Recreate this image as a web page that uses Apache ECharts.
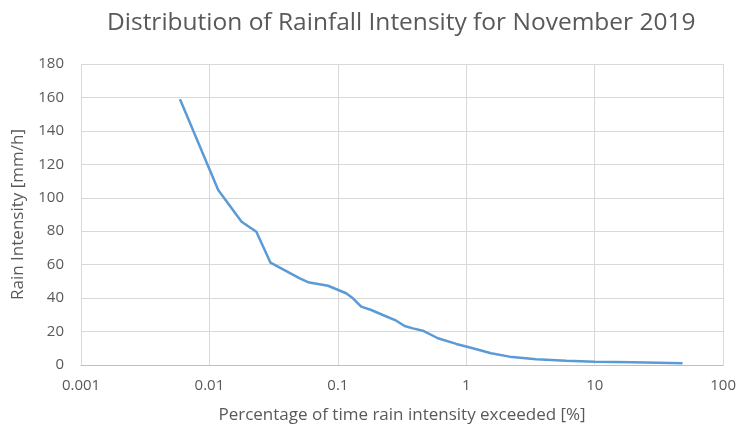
<!DOCTYPE html>
<html>
<head>
<meta charset="utf-8">
<script src="https://cdn.jsdelivr.net/npm/echarts@6/dist/echarts.min.js"></script>
<style>
  html, body { margin: 0; padding: 0; background: #fff; }
  #chart { width: 739px; height: 430px; }
</style>
</head>
<body>
<div id="chart"></div>
<script>
// Exceedance percentage (% of time) and the rain intensity reached (mm/h)
const exceedPct = [0.0059, 0.0117, 0.0178, 0.0232, 0.0299, 0.0505, 0.0586, 0.0838, 0.116, 0.131,
                   0.152, 0.182, 0.224, 0.285, 0.331, 0.384, 0.459, 0.601, 0.836, 1.125,
                   1.56, 2.17, 3.5, 6.0, 10, 19.7, 48.3];
const intensity = [158.9, 104.6, 85.7, 79.7, 61.2, 51.8, 49.5, 47.4, 42.9, 39.9,
                   34.9, 32.9, 29.9, 26.5, 23.3, 21.9, 20.5, 16.0, 12.6, 10.0,
                   7.0, 5.0, 3.4, 2.6, 2.0, 1.6, 1.0];
const xTicks = ['0.001', '0.01', '0.1', '1', '10', '100'];

const titleText = 'Distribution of Rainfall Intensity for November 2019';
const xName = 'Percentage of time rain intensity exceeded [%]';
const yName = 'Rain Intensity [mm/h]';

const font = '"Open Sans", "Noto Sans", sans-serif';
const textColor = '#595959';

const chart = echarts.init(document.getElementById('chart'), null, { renderer: 'canvas' });
chart.setOption({
  animation: false,
  backgroundColor: '#ffffff',
  title: {
    text: titleText,
    left: 102,
    top: 6,
    textStyle: { fontFamily: font, fontSize: 24.5, fontWeight: 'normal', color: textColor }
  },
  grid: { left: 81, right: 15, top: 64, bottom: 65 },
  xAxis: {
    type: 'log',
    logBase: 10,
    min: 0.001,
    max: 100,
    name: xName,
    nameLocation: 'middle',
    nameGap: 42,
    nameTextStyle: { fontFamily: font, fontSize: 17, color: textColor },
    axisLine: { show: true, lineStyle: { color: '#bfbfbf', width: 1 } },
    axisTick: { show: false },
    axisLabel: {
      fontFamily: font, fontSize: 15, color: textColor, margin: 13,
      formatter: function (v) {
        const k = Math.round(Math.log10(v)) + 3;
        return xTicks[k] !== undefined ? xTicks[k] : '';
      }
    },
    splitLine: { show: true, lineStyle: { color: '#d9d9d9', width: 1 } },
    minorTick: { show: false }
  },
  yAxis: {
    type: 'value',
    min: 0,
    max: 180,
    interval: 20,
    name: yName,
    nameLocation: 'middle',
    nameGap: 54,
    nameTextStyle: { fontFamily: font, fontSize: 17, color: textColor },
    axisLine: { show: false },
    axisTick: { show: false },
    axisLabel: { fontFamily: font, fontSize: 15, color: textColor, margin: 17 },
    splitLine: { show: true, lineStyle: { color: '#d9d9d9', width: 1 } }
  },
  series: [{
    type: 'line',
    data: exceedPct.map((x, i) => [x, intensity[i]]),
    showSymbol: false,
    symbol: 'none',
    lineStyle: { color: '#5b9bd5', width: 2.5 },
    itemStyle: { color: '#5b9bd5' }
  }]
});
</script>
</body>
</html>
